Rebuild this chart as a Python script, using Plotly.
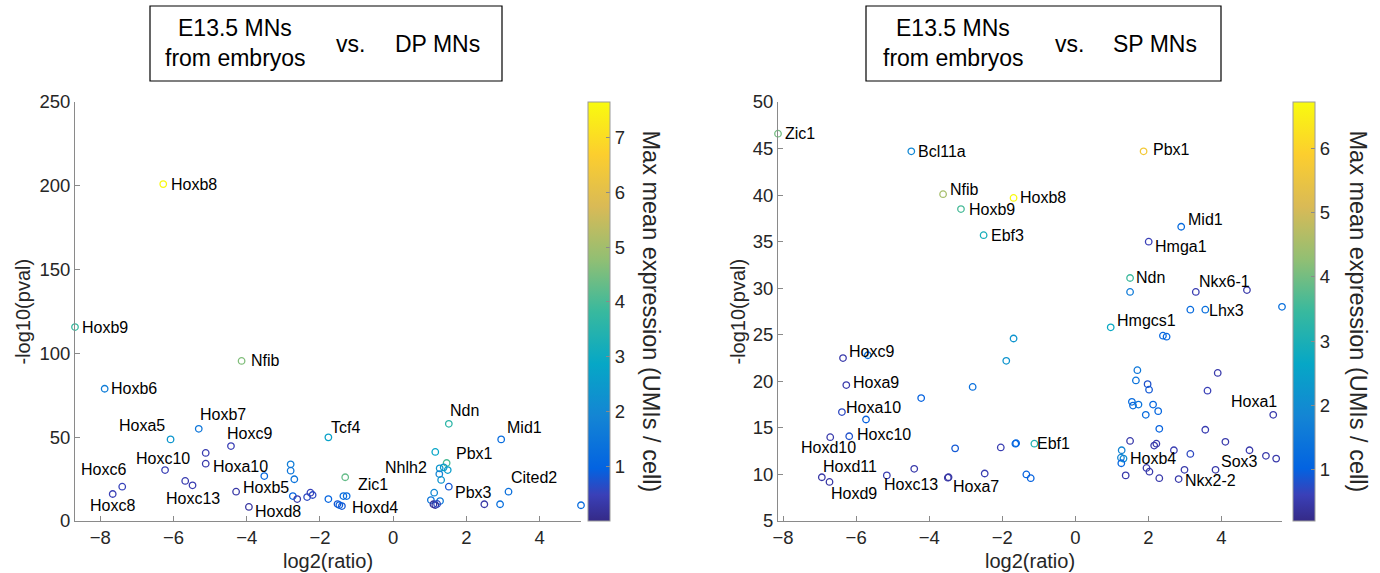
import plotly.graph_objects as go

# ---------------- data: E13.5 MNs vs DP MNs ----------------
dp_gene = ["Hoxb8", "Hoxb9", "Hoxb6", "Nfib", "Hoxa5", "Hoxb7", "Hoxc9", "Hoxc10",
           "Hoxa10", "Hoxc6", "Hoxc8", "Hoxc13", "Hoxb5", "Hoxd8", "Tcf4", "Zic1",
           "Hoxd4", "Nhlh2", "Ndn", "Pbx1", "Mid1", "Pbx3", "Cited2",
           "", "", "", "", "", "", "", "", "", "", "", "", "", "", "", "",
           "", "", "", "", "", "", "", "", "", "", "", "", "", ""]
dp_log2ratio = [-6.28, -8.69, -7.88, -4.14, -6.08, -5.31, -4.43, -6.23,
                -5.12, -7.40, -7.66, -5.48, -4.29, -3.94, -1.77, -1.31,
                -1.40, 1.27, 1.52, 1.46, 2.95, 1.52, 3.15,
                -5.12, -5.68, -3.52, -2.80, -2.80, -2.70, -2.74, -2.62, -2.35, -2.26, -2.20,
                -1.77, -1.52, -1.47, -1.36, -1.27,
                1.15, 1.26, 1.38, 1.49, 1.31, 1.12, 1.03, 1.28, 1.10, 1.15, 1.20,
                2.49, 2.92, 5.13]
dp_neglog10p = [201.0, 115.7, 78.9, 95.5, 48.7, 55.0, 44.7, 30.4,
                34.2, 20.5, 16.1, 21.3, 17.5, 8.4, 49.9, 26.1,
                8.9, 31.4, 58.0, 34.6, 48.7, 20.5, 17.5,
                40.6, 23.9, 26.8, 33.8, 30.0, 24.9, 14.9, 13.1, 14.3, 16.9, 15.5,
                13.1, 10.1, 9.5, 14.9, 14.9,
                41.2, 28.0, 32.0, 30.4, 24.5, 16.9, 12.5, 11.9, 10.0, 9.5, 10.2,
                10.0, 10.0, 9.4]
dp_maxexpr = [7.6, 3.8, 1.7, 4.6, 2.4, 1.5, 0.45, 0.45,
              0.35, 0.5, 0.45, 0.4, 0.3, 0.25, 2.7, 4.3,
              0.8, 2.4, 3.6, 4.0, 1.2, 0.8, 1.3,
              0.4, 0.4, 1.1, 1.7, 1.5, 1.4, 1.0, 0.35, 0.6, 0.5, 0.6,
              1.0, 0.8, 0.9, 1.2, 1.2,
              2.8, 1.9, 2.5, 2.6, 2.3, 2.0, 1.5, 1.6, 0.2, 0.2, 0.6,
              0.3, 1.3, 1.2]
dp_cmin, dp_cmax = 0.0, 7.65
dp_cticks = [1, 2, 3, 4, 5, 6, 7]

# ---------------- data: E13.5 MNs vs SP MNs ----------------
sp_gene = ["Zic1", "Bcl11a", "Pbx1", "Nfib", "Hoxb9", "Hoxb8", "Ebf3", "Mid1", "Hmga1",
           "Ndn", "Nkx6-1", "Lhx3", "Hmgcs1", "Hoxc9", "Hoxa9", "Hoxa10", "Hoxc10",
           "Hoxd10", "Hoxd11", "Hoxd9", "Hoxc13", "Hoxa7", "Ebf1", "Hoxa1", "Hoxb4",
           "Sox3", "Nkx2-2"] + [""] * 52
sp_log2ratio = [-8.14, -4.49, 1.87, -3.62, -3.13, -1.69, -2.51, 2.90, 2.01,
                1.50, 3.30, 3.56, 0.97, -6.36, -6.27, -6.39, -6.19,
                -6.71, -6.94, -6.73, -5.16, -3.49, -1.12, 5.42, 1.32,
                3.84, 2.83,
                1.50, 4.70, 3.15, 5.66, 2.40, 2.50, -1.69, -1.89, -5.68, -4.22,
                -2.81, -5.73, -3.29, -2.04, -1.64, -1.62, -4.41, -3.47, -2.48, -1.34,
                -1.22, 1.70, 1.66, 1.98, 2.02, 3.90, 3.62, 1.55, 1.58, 1.73,
                2.13, 2.27, 1.93, 2.30, 3.56, 1.50, 2.16, 2.22, 2.70, 4.11,
                4.77, 3.15, 5.22, 5.50, 1.27, 1.25, 1.26, 1.38, 1.95, 2.03,
                2.30, 2.99]
sp_neglog10p = [46.6, 44.7, 44.7, 40.1, 38.5, 39.7, 35.7, 36.6, 35.0,
                31.1, 29.6, 27.7, 25.8, 22.5, 19.6, 16.7, 14.1,
                14.0, 9.7, 9.2, 9.9, 9.65, 13.3, 16.4, 11.7,
                10.5, 9.5,
                29.6, 29.8, 27.7, 28.0, 24.9, 24.8, 24.6, 22.2, 22.8, 18.2,
                19.4, 15.9, 12.8, 12.9, 13.3, 13.35, 10.6, 9.7, 10.1, 10.0,
                9.6, 21.2, 20.1, 19.7, 19.1, 20.9, 19.0, 17.8, 17.4, 17.5,
                17.5, 16.8, 16.4, 14.9, 14.8, 13.6, 13.1, 13.3, 12.6, 13.5,
                12.6, 12.2, 12.0, 11.7, 12.6, 11.8, 11.2, 9.9, 10.7, 10.3,
                9.6, 10.5]
sp_maxexpr = [4.0, 1.9, 5.7, 4.5, 3.6, 6.7, 2.9, 1.2, 0.6,
              3.5, 0.55, 1.3, 2.7, 0.5, 0.5, 0.7, 0.8,
              0.5, 0.45, 0.45, 0.55, 0.45, 3.1, 0.5, 2.0,
              0.5, 0.5,
              1.6, 0.5, 1.2, 1.3, 1.1, 1.1, 2.2, 2.2, 1.3, 1.0,
              1.3, 1.0, 0.9, 0.55, 1.1, 1.1, 0.5, 0.45, 0.55, 1.0,
              1.0, 1.5, 1.4, 0.8, 0.9, 0.5, 0.6, 1.2, 1.2, 1.4,
              1.1, 1.1, 1.2, 1.0, 0.55, 0.5, 0.5, 0.5, 0.55, 0.5,
              0.5, 0.7, 0.5, 0.5, 1.8, 1.8, 1.1, 0.5, 0.5, 0.5,
              0.5, 0.5]
sp_cmin, sp_cmax = 0.2, 6.72
sp_cticks = [1, 2, 3, 4, 5, 6]

x_ticks = [-8, -6, -4, -2, 0, 2, 4]
dp_y_ticks = [0, 50, 100, 150, 200, 250]
sp_y_ticks = [5, 10, 15, 20, 25, 30, 35, 40, 45, 50]

# ---------------- label placement (style): anchor, xshift, yshift in px ----------------
dp_label_pos = {
    "Hoxb8": ("left", 7, 0), "Hoxb9": ("left", 6, 0), "Hoxb6": ("left", 5, 0),
    "Nfib": ("left", 8, 0), "Hoxa5": ("right", -5, 14), "Hoxb7": ("left", 0, 14),
    "Hoxc9": ("left", -5, 13), "Hoxc10": ("center", -2, 12), "Hoxa10": ("left", 6, -3),
    "Hoxc6": ("right", 5, 17), "Hoxc8": ("center", 0, -11), "Hoxc13": ("center", 0, -13),
    "Hoxb5": ("left", 6, 4), "Hoxd8": ("left", 5, -5), "Tcf4": ("left", 2, 10),
    "Zic1": ("left", 12, -7), "Hoxd4": ("left", 9, -1), "Nhlh2": ("right", -12, 1),
    "Ndn": ("left", 0, 13), "Pbx1": ("left", 8, 10), "Mid1": ("left", 5, 12),
    "Pbx3": ("left", 5, -6), "Cited2": ("left", 1, 14),
}
sp_label_pos = {
    "Zic1": ("left", 6, 0), "Bcl11a": ("left", 6, 0), "Pbx1": ("left", 8, 2),
    "Nfib": ("left", 6, 5), "Hoxb9": ("left", 7, 0), "Hoxb8": ("left", 5, 0),
    "Ebf3": ("left", 6, 0), "Mid1": ("left", 6, 7), "Hmga1": ("left", 5, -5),
    "Ndn": ("left", 5, 0), "Nkx6-1": ("left", 2, 10), "Lhx3": ("left", 3, -1),
    "Hmgcs1": ("left", 5, 7), "Hoxc9": ("left", 5, 7), "Hoxa9": ("left", 6, 3),
    "Hoxa10": ("left", 3, 5), "Hoxc10": ("left", 7, 2), "Hoxd10": ("center", -2, -10),
    "Hoxd11": ("left", 0, 11), "Hoxd9": ("left", 0, -12), "Hoxc13": ("left", -4, -9),
    "Hoxa7": ("left", 4, -9), "Ebf1": ("left", 2, 0), "Hoxa1": ("right", 5, 13),
    "Hoxb4": ("left", 5, 0), "Sox3": ("left", 4, 8), "Nkx2-2": ("left", 5, -1),
}

# ---------------- styling ----------------
W, H = 1380, 573
FONT = "Liberation Sans, Arial, Helvetica, sans-serif"
TXT = "#262626"
AX = "#8a8a8a"
PARULA = [[0.000, "#352a87"], [0.0625, "#3a40b8"], [0.125, "#0363e1"], [0.250, "#1485d4"],
          [0.375, "#06a7c6"], [0.500, "#38b99e"], [0.625, "#92bf73"],
          [0.750, "#d9ba56"], [0.875, "#fcce2e"], [1.000, "#f9fb0e"]]


def px(xp):
    return xp / W


def py(yp):
    return 1 - yp / H


AX_TOP, AX_BOT = 102, 521
panels = [
    dict(gene=dp_gene, x=dp_log2ratio, y=dp_neglog10p, c=dp_maxexpr, cmin=dp_cmin, cmax=dp_cmax,
         cticks=dp_cticks, yticks=dp_y_ticks, yrange=[0, 250], left=75, right=581,
         cbx=588, cbtitle=651, ytitle=22, pos=dp_label_pos, xa="x", ya="y",
         box=(150, 502), t1=235, vs=351, t2=437, other="DP MNs"),
    dict(gene=sp_gene, x=sp_log2ratio, y=sp_neglog10p, c=sp_maxexpr, cmin=sp_cmin, cmax=sp_cmax,
         cticks=sp_cticks, yticks=sp_y_ticks, yrange=[5, 50], left=778, right=1282,
         cbx=1293, cbtitle=1358, ytitle=737, pos=sp_label_pos, xa="x2", ya="y2",
         box=(866, 1221), t1=953, vs=1069, t2=1155, other="SP MNs"),
]

fig = go.Figure()
annotations = []
shapes = []
layout_axes = {}

for i, p in enumerate(panels):
    fig.add_trace(go.Scatter(
        x=p["x"], y=p["y"], mode="markers", xaxis=p["xa"], yaxis=p["ya"],
        cliponaxis=False, hoverinfo="skip", showlegend=False,
        marker=dict(symbol="circle-open", size=6.5, color=p["c"], colorscale=PARULA,
                    cmin=p["cmin"], cmax=p["cmax"], line=dict(width=1.3),
                    colorbar=dict(x=px(p["cbx"]), xanchor="left", xref="paper",
                                  y=py((AX_TOP + AX_BOT) / 2), yanchor="middle", yref="paper",
                                  lenmode="pixels", len=AX_BOT - AX_TOP,
                                  thicknessmode="pixels", thickness=22, xpad=0, ypad=0,
                                  outlinewidth=1, outlinecolor="#9a9a9a",
                                  tickvals=p["cticks"], ticks="inside", ticklen=4,
                                  tickcolor=AX, tickwidth=1,
                                  tickfont=dict(family=FONT, size=18.5, color=TXT)))))
    suffix = "" if i == 0 else "2"
    layout_axes["xaxis" + suffix] = dict(
        domain=[px(p["left"]), px(p["right"])], range=[min(p["x"]), max(p["x"])],
        anchor="y" + suffix, tickvals=x_ticks, ticks="inside", ticklen=5, tickcolor=AX,
        showline=True, linecolor=AX, linewidth=1, showgrid=False, zeroline=False,
        automargin=False, tickfont=dict(family=FONT, size=18.5, color=TXT))
    layout_axes["yaxis" + suffix] = dict(
        domain=[py(AX_BOT), py(AX_TOP)], range=p["yrange"], anchor="x" + suffix,
        tickvals=p["yticks"], ticks="inside", ticklen=5, tickcolor=AX,
        showline=True, linecolor=AX, linewidth=1, showgrid=False, zeroline=False,
        automargin=False, tickfont=dict(family=FONT, size=18.5, color=TXT))

    # point labels
    for g, xv, yv in zip(p["gene"], p["x"], p["y"]):
        if not g:
            continue
        anchor, dx, dy = p["pos"][g]
        annotations.append(dict(x=xv, y=yv, xref=p["xa"], yref=p["ya"], text=g,
                                showarrow=False, xanchor=anchor, yanchor="middle",
                                xshift=dx, yshift=dy, borderpad=0,
                                font=dict(family=FONT, size=16, color="black")))
    # axis titles
    annotations.append(dict(x=px((p["left"] + p["right"]) / 2), y=py(561), xref="paper",
                            yref="paper", text="log2(ratio)", showarrow=False,
                            xanchor="center", yanchor="middle",
                            font=dict(family=FONT, size=20, color=TXT)))
    annotations.append(dict(x=px(p["ytitle"]), y=py((AX_TOP + AX_BOT) / 2), xref="paper",
                            yref="paper", text="-log10(pval)", showarrow=False,
                            textangle=-90, xanchor="center", yanchor="middle",
                            font=dict(family=FONT, size=20, color=TXT)))
    annotations.append(dict(x=px(p["cbtitle"]), y=py((AX_TOP + AX_BOT) / 2), xref="paper",
                            yref="paper", text="Max mean expression (UMIs / cell)",
                            showarrow=False, textangle=90, xanchor="center",
                            yanchor="middle", font=dict(family=FONT, size=23.5, color=TXT)))
    # boxed title
    bx0, bx1 = p["box"]
    shapes.append(dict(type="rect", xref="paper", yref="paper", x0=px(bx0), x1=px(bx1),
                       y0=py(81), y1=py(6), line=dict(color="black", width=1.2),
                       fillcolor="rgba(0,0,0,0)"))
    for txt, xc, yc in [("E13.5 MNs", p["t1"], 28), ("from embryos", p["t1"], 58),
                        ("vs.", p["vs"], 44), (p["other"], p["t2"], 44)]:
        annotations.append(dict(x=px(xc), y=py(yc), xref="paper", yref="paper", text=txt,
                                showarrow=False, xanchor="center", yanchor="middle",
                                font=dict(family=FONT, size=23, color="black")))

fig.update_layout(template="none", width=W, height=H, margin=dict(l=0, r=0, t=0, b=0, pad=0),
                  paper_bgcolor="white", plot_bgcolor="white", showlegend=False,
                  annotations=annotations, shapes=shapes, **layout_axes)
fig.write_html("out.html")
